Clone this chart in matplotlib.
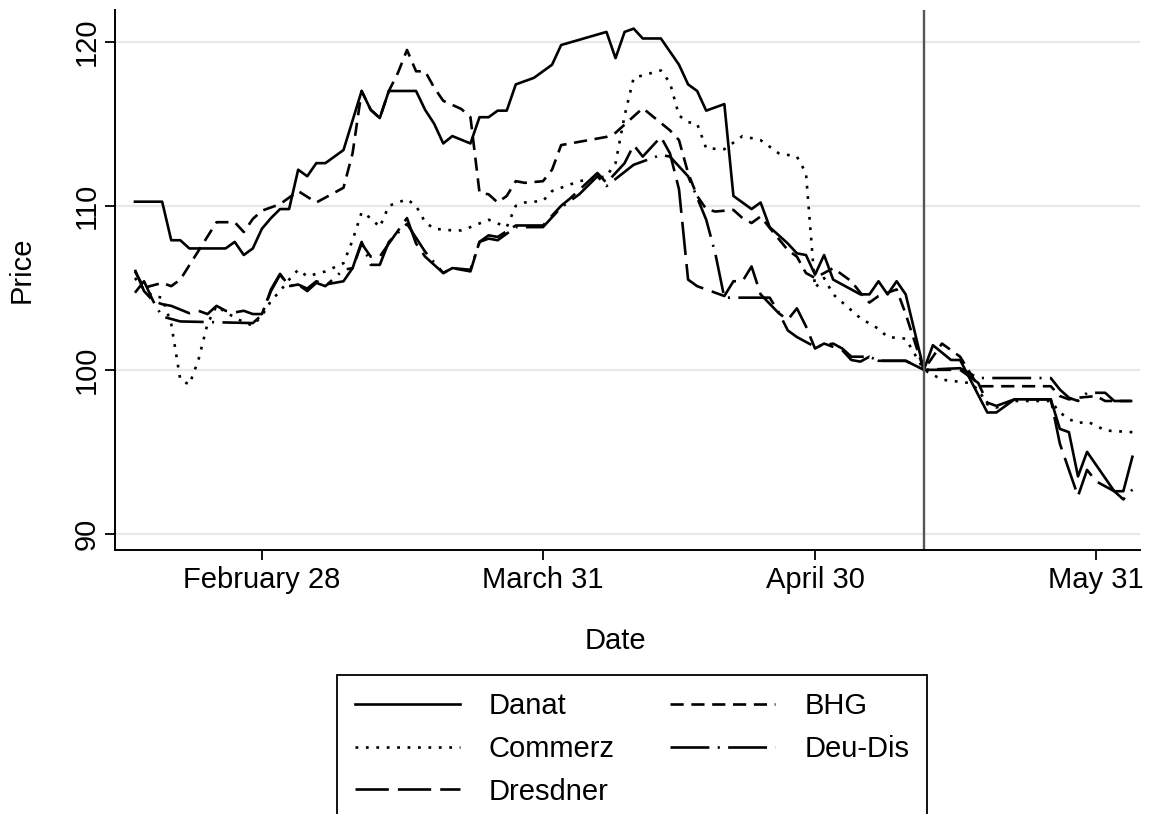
import matplotlib
matplotlib.use('Agg')
import matplotlib.pyplot as plt
import pandas as pd

plt.rcParams['font.family'] = ['Liberation Sans', 'DejaVu Sans']
plt.rcParams['lines.scale_dashes'] = False

# day offsets are counted from 28 February 1931; prices are indexed to 100 on 12 May
danat_days = [-14, -11, -10, -9, -8, -4, -3, -2, -1, 0, 1, 2, 3, 4, 5, 6, 7, 9, 11, 12,
              13, 14, 17, 18, 19, 20, 21, 23, 24, 25, 26, 27, 28, 30, 32, 33, 38, 39, 40, 41,
              42, 44, 46, 47, 48, 49, 51, 52, 54, 55, 56, 58, 59, 60, 61, 62, 63, 66, 67, 68,
              69, 70, 71, 73, 74, 76, 77, 80, 81, 83, 87, 88, 89, 90, 91, 94, 95, 96]
danat = [110.25, 110.25, 107.9, 107.9, 107.4, 107.4, 107.8, 107.0, 107.4, 108.6, 109.25, 109.8,
         109.8, 112.2, 111.8, 112.6, 112.6, 113.4, 117.0, 115.85, 115.35, 117.0, 117.0, 115.85,
         115.0, 113.8, 114.25, 113.8, 115.4, 115.4, 115.8, 115.8, 117.4, 117.8, 118.6, 119.8,
         120.6, 119.0, 120.6, 120.8, 120.2, 120.2, 118.6, 117.4, 117.0, 115.8, 116.2, 110.6,
         109.8, 110.2, 108.7, 107.7, 107.1, 107.0, 105.8, 107.0, 105.5, 104.6, 104.6, 105.4,
         104.6, 105.4, 104.6, 100.0, 101.5, 100.6, 100.6, 97.4, 97.4, 98.2, 98.2, 96.4, 96.2,
         93.5, 95.0, 92.6, 92.6, 94.7]

bhg_days = [-14, -13, -11, -10, -9, -5, -3, -2, -1, 0, 2, 4, 6, 7, 9, 10, 11, 12, 13, 14,
            15, 16, 17, 18, 19, 20, 22, 23, 24, 25, 26, 27, 28, 29, 31, 32, 33, 35, 38, 39,
            42, 43, 45, 46, 47, 48, 49, 50, 52, 53, 54, 55, 56, 58, 59, 60, 61, 63, 64, 65,
            66, 67, 68, 70, 71, 73, 75, 76, 77, 79, 87, 88, 89, 90, 92, 93, 96]
bhg = [106.0, 105.0, 105.3, 105.1, 105.5, 109.0, 109.0, 108.4, 109.2, 109.7, 110.1, 110.9,
       110.2, 110.5, 111.1, 113.2, 117.0, 115.85, 115.35, 117.0, 118.1, 119.5, 118.2, 118.2,
       117.2, 116.4, 115.9, 115.4, 110.8, 110.7, 110.2, 110.6, 111.5, 111.4, 111.5, 112.2,
       113.7, 113.9, 114.2, 114.45, 115.95, 115.5, 114.6, 114.0, 112.0, 110.6, 109.8, 109.65,
       109.75, 109.25, 108.95, 109.35, 108.65, 107.3, 106.9, 105.9, 105.6, 106.2, 105.8, 105.4,
       104.7, 104.1, 104.5, 104.9, 103.4, 100.0, 101.6, 101.2, 100.8, 99.0, 99.0, 98.4, 98.2,
       98.3, 98.4, 98.1, 98.1]

commerz_days = [-14, -13, -12, -11, -10, -9, -8, -7, -6, -5, -4, -3, -2, -1, 0, 1, 2, 3, 4, 5,
                7, 9, 10, 11, 12, 13, 14, 16, 17, 18, 19, 21, 22, 23, 25, 27, 28, 29, 31, 32,
                35, 38, 39, 40, 41, 44, 45, 46, 47, 48, 49, 51, 53, 55, 57, 59, 60, 61, 62, 63,
                66, 68, 69, 71, 73, 75, 78, 79, 80, 81, 83, 87, 88, 89, 90, 91, 92, 93, 96]
commerz = [105.6, 104.9, 104.5, 104.4, 102.8, 99.4, 99.1, 100.6, 102.8, 103.9, 103.5, 103.2,
           102.9, 102.7, 103.3, 104.2, 104.8, 105.5, 106.1, 105.7, 106.0, 106.5, 107.9, 109.6,
           109.25, 108.7, 110.0, 110.4, 110.0, 109.0, 108.6, 108.5, 108.5, 108.7, 109.15, 108.7,
           110.0, 110.2, 110.3, 110.9, 111.5, 111.8, 112.6, 115.5, 117.8, 118.25, 117.5, 115.5,
           115.1, 115.0, 113.5, 113.45, 114.25, 114.0, 113.2, 113.0, 112.0, 105.0, 105.6, 104.6,
           103.15, 102.5, 102.0, 101.9, 100.0, 99.4, 99.2, 98.8, 97.9, 97.7, 98.1, 98.1, 97.4,
           97.0, 96.75, 96.85, 96.6, 96.3, 96.2]

dresdner_days = [-14, -13, -12, -11, -10, -8, -7, -6, -5, -4, -3, -2, -1, 0, 1, 2, 3, 4, 5, 6,
                 7, 9, 10, 11, 12, 13, 14, 16, 17, 18, 20, 21, 23, 24, 25, 26, 28, 31, 33, 34,
                 37, 38, 40, 41, 42, 44, 45, 46, 47, 48, 49, 51, 52, 53, 54, 55, 57, 58, 59, 60,
                 61, 62, 64, 65, 66, 67, 68, 71, 73, 77, 79, 80, 81, 83, 87, 88, 90, 91, 92, 94,
                 95, 96]
dresdner = [106.1, 104.8, 104.2, 104.0, 103.9, 103.45, 103.6, 103.4, 103.9, 103.6, 103.5, 103.6,
            103.4, 103.4, 104.8, 105.8, 105.1, 105.2, 104.95, 105.4, 105.2, 105.4, 106.2, 107.7,
            106.9, 106.9, 107.7, 109.25, 107.7, 106.9, 105.9, 106.2, 106.0, 107.8, 108.2, 108.1,
            108.8, 108.8, 110.0, 110.45, 112.0, 111.4, 112.6, 113.7, 113.0, 114.2, 113.2, 111.0,
            105.5, 105.1, 104.9, 104.5, 105.4, 105.4, 106.3, 104.6, 103.45, 103.05, 103.75,
            102.65, 101.3, 101.6, 101.2, 100.6, 100.5, 100.8, 100.55, 100.55, 100.0, 100.0, 99.2,
            98.0, 97.8, 98.2, 98.2, 95.5, 92.3, 93.9, 93.2, 92.6, 92.1, 92.7]

deudis_days = [-14, -13, -12, -11, -9, -1, 0, 1, 2, 3, 4, 5, 6, 7, 9, 10, 11, 12, 13, 14, 16,
               18, 20, 21, 23, 24, 25, 26, 28, 31, 33, 35, 37, 38, 41, 42, 44, 45, 47, 48, 49,
               50, 51, 56, 57, 58, 59, 61, 63, 64, 65, 67, 68, 71, 73, 77, 79, 87, 88, 89, 90,
               91, 93, 94, 96]
deudis = [104.7, 105.4, 104.2, 103.25, 102.95, 102.85, 103.35, 104.9, 105.85, 105.1, 105.2,
          104.8, 105.3, 105.1, 106.1, 106.2, 107.8, 106.4, 106.4, 107.8, 108.9, 107.2, 105.9,
          106.2, 106.1, 107.8, 108.0, 107.9, 108.7, 108.7, 109.9, 110.7, 111.8, 111.2, 112.5,
          112.7, 113.1, 113.0, 111.8, 110.5, 109.15, 107.1, 104.4, 104.4, 103.5, 102.4, 102.0,
          101.4, 101.6, 101.3, 100.8, 100.8, 100.55, 100.55, 100.0, 100.1, 99.5, 99.5, 98.8,
          98.3, 98.1, 98.6, 98.6, 98.1, 98.1]

base = pd.Timestamp('1931-02-28')
event_day = pd.Timestamp('1931-05-12')
tick_dates = ['1931-02-28', '1931-03-31', '1931-04-30', '1931-05-31']
tick_labels = ['February 28', 'March 31', 'April 30', 'May 31']


def to_dates(days):
    return base + pd.to_timedelta(days, unit='D')


fig = plt.figure(figsize=(11.5, 8.14), dpi=100)
ax = fig.add_axes([0.1, 0.324, 0.891, 0.664])

fs = 21
lw = 1.9
ax.plot(to_dates(danat_days), danat, color='black', lw=lw, label='Danat')
ax.plot(to_dates(commerz_days), commerz, color='black', lw=lw,
        linestyle=(0, (2, 5.5)), label='Commerz')
ax.plot(to_dates(dresdner_days), dresdner, color='black', lw=lw,
        linestyle=(0, (24, 6.5)), label='Dresdner')
ax.plot(to_dates(bhg_days), bhg, color='black', lw=lw,
        linestyle=(0, (9.5, 5.5)), label='BHG')
ax.plot(to_dates(deudis_days), deudis, color='black', lw=lw,
        linestyle=(0, (28, 6, 1.5, 6)), label='Deu-Dis')

ax.axvline(event_day, color='#555555', lw=1.7)

ax.set_xlim(base + pd.Timedelta(days=-16.2), base + pd.Timedelta(days=96.8))
ax.set_ylim(89.0, 121.95)
ax.set_yticks([90, 100, 110, 120])
ax.set_yticklabels(['90', '100', '110', '120'], rotation=90, va='center')
ax.set_xticks(pd.to_datetime(tick_dates))
ax.set_xticklabels(tick_labels)
ax.tick_params(labelsize=fs, length=7, width=1.3, pad=4, color='black')
ax.tick_params(axis='y', pad=3)
ax.grid(axis='y', color='#e8e8e8', lw=1.6)
ax.set_axisbelow(True)
for side in ['top', 'right']:
    ax.spines[side].set_visible(False)
for side in ['left', 'bottom']:
    ax.spines[side].set_linewidth(1.4)

fig.text(22 / 1150, 1 - 270 / 814, 'Price', rotation=90, ha='center', va='center', fontsize=fs)
fig.text(615 / 1150, 1 - 641 / 814, 'Date', ha='center', va='center', fontsize=fs)

leg = fig.legend(loc='upper center', bbox_to_anchor=(632 / 1150, 1 - 675 / 814), ncol=2,
                 fontsize=fs, handlelength=3.6, handletextpad=1.0, columnspacing=1.9,
                 labelspacing=0.5, borderpad=0.6, borderaxespad=0, fancybox=False,
                 edgecolor='black', framealpha=1)
leg.get_frame().set_linewidth(1.3)

fig.savefig('out.png', dpi=100)
